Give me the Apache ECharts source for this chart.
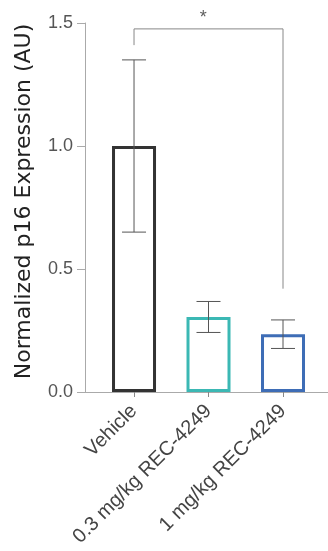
<!DOCTYPE html>
<html><head><meta charset="utf-8">
<script src="https://cdn.jsdelivr.net/npm/echarts@6/dist/echarts.min.js"></script>
<style>html,body{margin:0;padding:0;background:#fff}#c{width:328px;height:551px}</style>
</head><body><div id="c"></div>
<script>
const categories = ['Vehicle', '0.3 mg/kg REC-4249', '1 mg/kg REC-4249'];
const means = [1.0, 0.305, 0.235];
const errors = [0.35, 0.063, 0.058];
const barColors = ['#333333', '#3bb8b4', '#3e6db6'];
const yTicks = [0, 0.5, 1.0, 1.5];
const bracketY = [1.41, 1.476, 1.476, 0.42];
const sigLabel = '*';

const positions = categories.map((c, i) => i);
const FONT = 'Liberation Sans, Arial, sans-serif';
const chart = echarts.init(document.getElementById('c'));
chart.setOption({
  animation: false,
  grid: {left: 85, right: 0, top: 23, bottom: 159},
  xAxis: {
    type: 'value', min: -0.658, max: 2.604,
    axisLine: {show: true, onZero: false, lineStyle: {color: '#aaa', width: 1}},
    axisTick: {show: true, length: 5, lineStyle: {color: '#888'}, customValues: positions},
    axisLabel: {customValues: positions, rotate: 45, fontSize: 20, color: '#444', fontFamily: FONT, margin: 16,
      formatter: v => categories[Math.round(v)]},
    splitLine: {show: false}
  },
  yAxis: {
    type: 'value', min: 0, max: 1.5, interval: 0.5,
    name: 'Normalized p16 Expression (AU)', nameLocation: 'middle', nameGap: 50,
    nameTextStyle: {fontSize: 22, color: '#222', fontFamily: 'DejaVu Sans, sans-serif', padding: [0, 0, 0, 12]},
    axisLine: {show: true, onZero: false, lineStyle: {color: '#aaa'}},
    axisTick: {show: true, length: 8, lineStyle: {color: '#aaa'}},
    axisLabel: {fontSize: 18, color: '#555', margin: 12, fontFamily: FONT,
      formatter: v => v.toFixed(1)},
    splitLine: {show: false}
  },
  series: [
    {
      type: 'bar', barWidth: 44,
      data: means.map((m, i) => ({value: [i, m], itemStyle: {color: '#fff', borderColor: barColors[i], borderWidth: 3}})),
      z: 2
    },
    {
      type: 'custom', z: 3,
      data: means.map((m, i) => [i, m - errors[i], m + errors[i]]),
      renderItem: (params, api) => {
        const lo = api.coord([api.value(0), api.value(1)]);
        const hi = api.coord([api.value(0), api.value(2)]);
        const hw = 12;
        const st = {stroke: '#555', lineWidth: 1, fill: null};
        return {type: 'group', children: [
          {type: 'line', shape: {x1: lo[0], y1: lo[1], x2: hi[0], y2: hi[1]}, style: st},
          {type: 'line', shape: {x1: lo[0]-hw, y1: lo[1], x2: lo[0]+hw, y2: lo[1]}, style: st},
          {type: 'line', shape: {x1: hi[0]-hw, y1: hi[1], x2: hi[0]+hw, y2: hi[1]}, style: st}
        ]};
      }
    },
    {
      type: 'line', symbol: 'none', z: 1,
      data: [[0, bracketY[0]], [0, bracketY[1]], [2, bracketY[2]], [2, bracketY[3]]],
      lineStyle: {color: '#888', width: 1}
    },
    {
      type: 'scatter', symbolSize: 0,
      data: [[0.93, bracketY[1]]],
      label: {show: true, position: 'top', distance: 2, formatter: sigLabel, fontSize: 18, color: '#333', fontFamily: FONT}
    }
  ]
});
</script></body></html>
